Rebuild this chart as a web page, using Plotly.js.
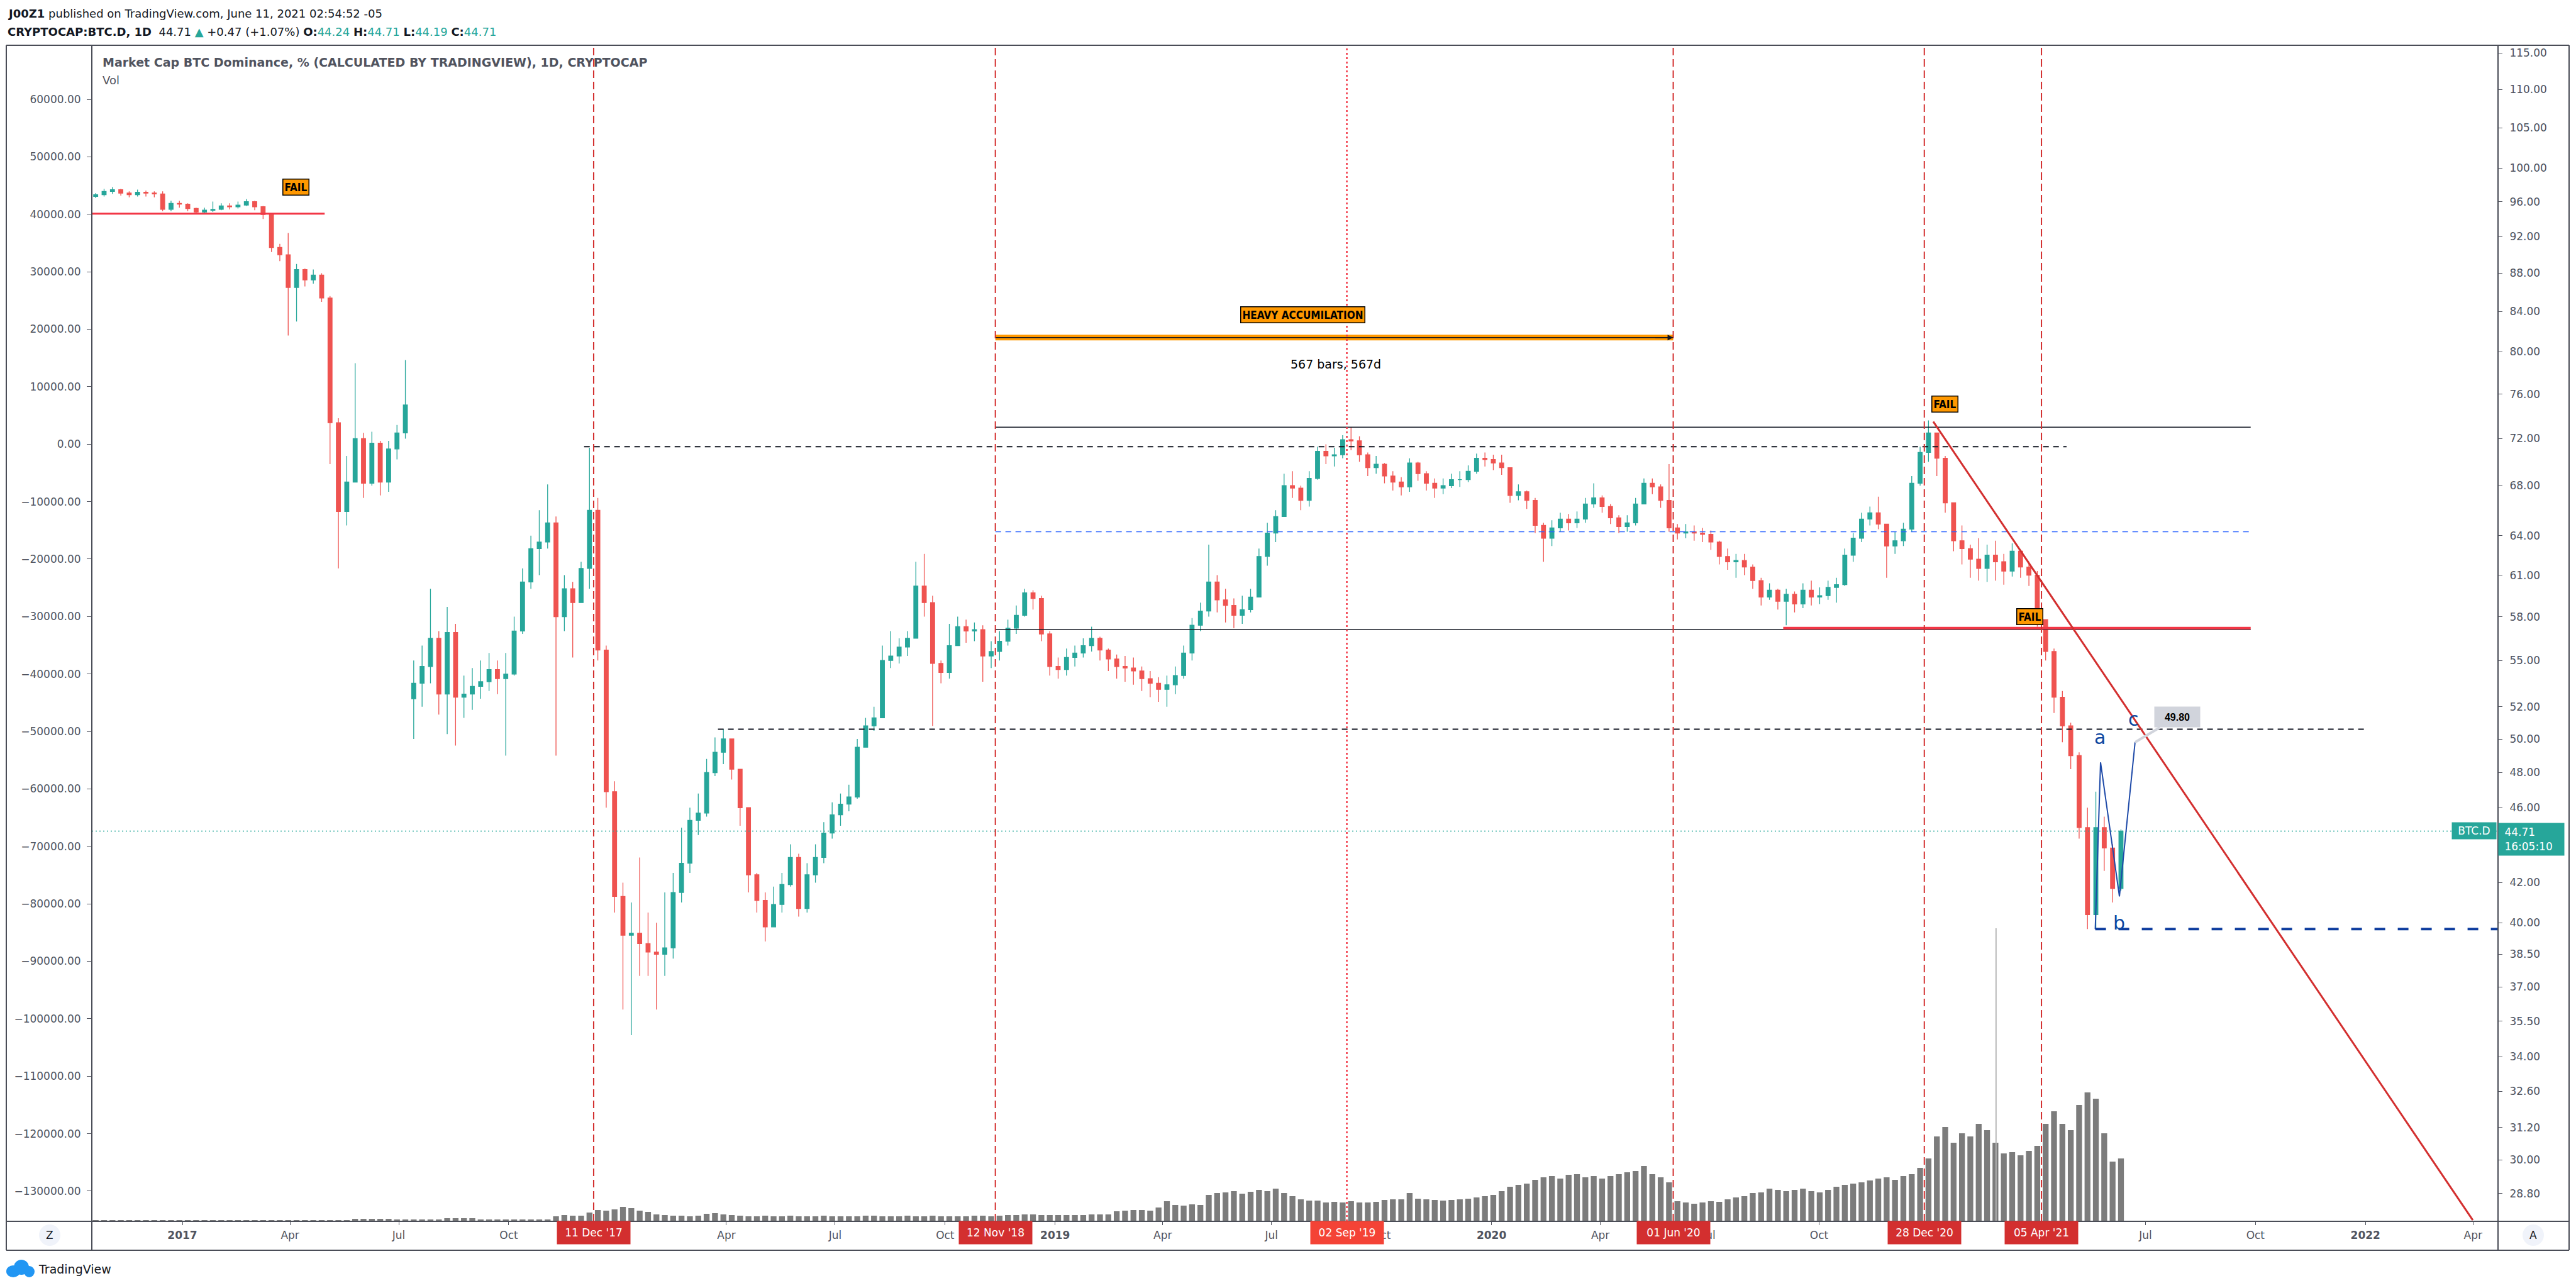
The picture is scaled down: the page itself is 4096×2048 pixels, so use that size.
<!DOCTYPE html>
<html><head><meta charset="utf-8">
<script src="https://cdn.plot.ly/plotly-3.0.1.min.js"></script>
<style>html,body{margin:0;padding:0;background:#fff}#chart{width:4096px;height:2048px}</style>
</head><body><div id="chart"></div>
<script>
// ================= DATA (weekly candles) =================
const firstWeek = '2016-10-17';
// segment 1 : Oct 2016 .. early Jul 2017
const seg1Open = 96.6;
const seg1Close = [96.8,97.2,97.4,97.0,96.8,97.1,97.0,96.9,95.1,95.8,
  95.7,95.2,94.8,95.0,95.1,95.5,95.4,95.6,96.0,95.4,
  94.5,90.8,90.0,86.5,88.4,87.3,87.8,85.4,73.4,65.9,
  68.3,72.0,68.2,71.6,68.3,71.1,72.5,75.0];
const seg1High = [97.0,97.5,97.7,97.5,97.2,97.4,97.3,97.2,97.2,96.1,
  96.1,95.8,95.3,95.3,96.0,95.8,95.8,96.0,96.3,96.1,
  95.5,94.5,91.2,92.4,89.0,88.5,88.4,88.0,85.6,73.8,
  70.5,78.9,72.5,72.6,71.8,71.8,73.2,79.2];
const seg1Low = [96.4,96.6,96.9,96.7,96.5,96.6,96.6,96.5,94.9,94.9,
  95.3,94.9,94.6,94.6,94.8,95.0,95.1,95.2,95.5,95.0,
  94.0,90.3,89.3,81.6,83.0,86.6,86.9,85.0,69.8,61.5,
  64.8,68.5,67.0,68.0,67.2,67.5,70.2,72.0];
// segment 2 : Jul 2017 .. 11 Jun 2021
const seg2Open = 52.5;
const seg2Close = [53.5,54.6,56.5,52.8,56.9,52.6,52.8,53.3,53.6,54.4,
  53.8,54.1,57.0,60.5,63.0,63.5,65.0,58.0,60.0,59.0,
  61.5,66.0,55.7,46.9,41.3,39.4,39.5,39.0,38.6,38.5,
  38.8,41.5,43.0,45.3,45.7,48.0,49.2,50.0,48.2,46.0,
  42.4,41.1,39.8,40.9,41.9,43.3,40.7,42.4,43.3,44.6,
  45.6,46.2,46.6,49.5,50.8,51.3,55.0,55.3,55.9,56.5,
  60.2,59.0,54.8,54.2,56.0,57.3,57.0,57.1,55.3,55.6,
  56.3,57.2,58.1,59.7,59.3,56.8,54.6,54.4,55.2,55.5,
  56.0,56.5,55.7,55.1,54.6,54.5,54.3,53.8,53.5,53.1,
  53.4,54.0,55.5,57.4,58.4,60.5,59.2,58.8,58.1,58.5,
  59.4,62.4,64.2,65.5,68.0,67.8,66.8,68.6,70.9,70.5,
  70.6,71.9,71.8,70.6,69.5,69.8,68.8,68.3,67.9,69.9,
  69.0,68.2,67.8,68.0,68.5,68.5,69.2,70.3,70.2,69.9,
  69.5,67.2,67.5,66.8,64.8,63.8,64.6,65.3,65.0,65.3,
  66.5,67.0,66.3,65.4,64.7,65.0,66.5,68.2,67.9,66.8,
  64.6,64.2,64.3,64.2,64.1,63.5,62.4,62.0,62.1,61.6,
  60.6,59.4,59.9,59.1,59.6,58.9,59.9,59.4,59.5,60.1,
  60.3,62.5,63.8,65.3,65.8,64.9,63.2,63.6,64.5,68.2,
  70.8,72.5,70.3,66.6,63.6,63.0,62.2,61.5,62.5,62.0,
  61.3,62.8,61.6,61.0,57.8,55.6,52.6,50.8,49.0,44.9,
  40.4,44.9,43.8,41.7,44.71];
const seg2High = [55.0,56.0,60.0,57.0,58.7,57.5,54.0,54.5,55.0,55.5,
  55.0,55.5,58.0,61.5,64.0,66.0,68.1,65.5,61.0,60.5,
  62.0,71.2,67.0,56.0,47.5,42.0,41.0,43.3,40.5,40.0,
  41.5,42.5,44.9,46.0,46.8,48.8,50.1,50.6,50.0,48.0,
  46.0,42.5,41.5,41.8,42.5,44.0,43.5,43.0,44.0,45.2,
  46.3,46.8,47.3,50.0,51.3,52.0,56.0,57.0,56.5,57.0,
  62.0,62.6,59.5,55.0,57.5,58.0,57.8,57.6,57.4,56.3,
  57.0,57.8,58.8,60.0,59.9,59.5,57.0,55.2,55.8,56.0,
  56.5,57.3,56.6,55.8,55.4,55.3,55.2,54.6,54.3,53.9,
  54.0,54.6,56.0,57.9,59.0,63.3,61.0,60.0,59.3,59.5,
  60.0,63.0,65.0,66.0,69.0,69.2,68.0,69.2,71.3,71.5,
  71.2,72.3,73.0,72.2,70.8,70.5,69.9,69.2,68.7,70.3,
  70.0,69.2,68.6,68.6,69.0,69.2,69.7,70.7,70.8,70.6,
  70.6,69.4,68.1,67.6,67.0,65.0,65.2,65.8,65.7,65.9,
  67.0,68.2,67.2,66.5,65.6,65.6,67.0,68.6,68.6,68.1,
  69.8,64.9,64.9,64.8,64.6,64.4,63.6,63.0,62.6,62.6,
  61.8,60.8,60.4,60.0,60.0,59.8,60.4,60.6,60.1,60.6,
  60.8,63.0,64.2,65.8,66.3,67.1,64.5,64.3,65.0,68.8,
  71.3,73.6,72.0,70.5,66.5,64.8,63.3,63.8,63.3,63.6,
  62.6,63.4,62.8,62.0,61.3,57.8,55.8,53.0,51.0,49.2,
  46.0,46.9,45.5,44.0,44.8];
const seg2Low = [50.0,52.0,53.5,51.5,50.3,49.6,51.3,51.8,52.5,53.0,
  52.8,49.0,54.0,56.8,60.0,61.0,63.0,49.0,57.0,55.2,
  59.0,60.0,55.0,46.0,40.5,36.0,34.9,37.5,37.5,36.0,
  37.5,38.3,41.0,42.5,44.5,45.5,47.8,48.5,47.6,45.0,
  41.5,40.5,39.1,39.8,40.5,41.8,40.3,40.5,42.0,43.0,
  44.3,45.0,45.8,46.5,49.5,50.5,52.0,54.5,54.8,55.3,
  57.5,58.0,50.8,53.5,53.8,56.0,56.2,56.3,53.6,54.5,
  55.0,56.0,56.8,58.0,58.5,56.3,54.0,53.8,54.0,54.6,
  55.2,55.6,55.0,54.3,53.8,53.6,53.4,53.0,52.6,52.3,
  52.0,52.8,53.8,55.0,57.0,58.0,58.3,57.6,57.2,57.5,
  58.3,59.5,61.7,63.5,65.5,67.0,66.0,66.3,68.5,69.8,
  69.6,70.3,71.0,70.0,68.8,69.0,68.2,67.6,67.2,67.5,
  68.4,67.6,67.0,67.3,67.8,67.9,68.3,69.0,69.6,69.3,
  68.9,66.6,66.8,66.1,64.2,62.0,63.2,64.3,64.4,64.6,
  65.0,66.2,65.8,64.9,64.2,64.3,64.8,66.5,67.3,66.2,
  64.3,63.7,63.8,63.6,63.5,62.9,61.8,61.4,60.8,61.0,
  60.0,58.8,59.2,58.5,57.4,58.3,58.6,58.8,58.9,59.2,
  59.0,60.2,62.0,63.5,64.8,64.5,60.8,62.6,63.2,64.3,
  68.0,70.0,68.8,65.8,62.8,61.8,60.8,60.6,60.5,60.6,
  60.3,60.9,60.8,60.2,57.3,55.0,51.6,49.8,48.2,44.3,
  39.7,39.7,42.6,41.0,41.6];
// volume (weekly, arbitrary units = bar height)
const volume = [2,2,2,2,2,2,2,2,2,2,
  2,2,2,2,2,2,2,2,2,2,
  2,2,2,2,2,2,2,2,2,2,
  2,4,4,4,4,4,3,3,3,3,
  3,3,5,5,5,5,3,3,3,3,
  3,3,3,3,3,8,10,9,9,14,
  18,17,19,23,21,17,15,11,10,9,
  9,8,9,12,13,11,10,9,8,8,
  9,8,8,9,8,8,8,9,8,8,
  8,8,9,9,8,8,8,9,8,8,
  9,8,8,8,8,9,9,8,9,10,
  10,11,11,10,10,10,10,10,10,11,
  11,11,16,17,18,18,17,22,32,26,
  25,27,26,42,45,46,48,44,47,50,
  48,52,45,40,35,33,33,30,31,30,
  32,30,30,31,34,35,35,45,36,35,
  34,33,34,35,36,38,40,42,48,55,
  58,60,66,70,72,68,74,75,70,72,
  68,72,75,78,80,88,75,70,62,32,
  30,28,30,32,31,35,38,40,45,46,
  52,50,48,50,52,48,46,50,55,58,
  60,62,65,68,70,66,72,75,85,100,
  135,150,125,140,135,155,145,125,108,110,
  105,112,120,155,175,155,145,185,205,195,
  140,95,100];
const volSpikeDate = ['2021-02-26'];
const volSpikeValue = [466];

// events (vertical markers)
const eventDates  = ['2017-12-11','2018-11-12','2019-09-02','2020-06-01','2020-12-28','2021-04-05'];
const eventLabels = ["11 Dec '17","12 Nov '18","02 Sep '19","01 Jun '20","28 Dec '20","05 Apr '21"];
const eventDotted = [false,false,true,false,false,false];

// drawings (levels)
const failLevelX = ['2016-10-17 06:00','2017-04-30'];   const failLevelY = [94.6,94.6];
const topDashX   = ['2017-12-03','2021-04-26'];          const topDashY   = [71.3,71.3];
const topSolidX  = ['2018-11-12','2021-09-27'];          const topSolidY  = [73.0,73.0];
const midBlueX   = ['2018-11-12','2021-09-27'];          const midBlueY   = [64.3,64.3];
const lowSolidX  = ['2018-11-12','2021-09-27'];          const lowSolidY  = [57.1,57.1];
const supportX   = ['2020-09-01','2021-09-27'];          const supportY   = [57.2,57.2];
const lowDashX   = ['2018-03-25','2022-01-03'];          const lowDashY   = [50.6,50.6];
const accumX     = ['2018-11-12','2020-06-01'];          const accumY     = [81.4,81.4];
const trendX     = ['2021-01-04 12:00','2022-03-31 19:00']; const trendY = [73.5,27.88];
const abcX       = ['2021-05-20','2021-05-24 10:00','2021-06-09 05:00','2021-06-22 07:00'];
const abcY       = [39.7,48.6,41.3,49.8];
const bLineX     = ['2021-05-20','2022-04-21 21:00'];    const bLineY     = [39.7,39.7];
const lastPrice  = 44.71;

// axes
const xRange = ['2016-10-17 06:00','2022-04-21 21:00'];
const rightTicks = [28.8,30,31.2,32.6,34,35.5,37,38.5,40,42,46,48,50,52,55,58,61,64,68,72,76,80,84,88,92,96,100,105,110,115];
const leftTicks = [60000,50000,40000,30000,20000,10000,0,-10000,-20000,-30000,-40000,-50000,-60000,-70000,-80000,-90000,-100000,-110000,-120000,-130000];
// tick labels that sit under the red event boxes are blank (hidden in the reference)
const xTickDates = ['2017-01-01','2017-04-01','2017-07-01','2017-10-01','2018-01-01','2018-04-01','2018-07-01','2018-10-01',
  '2019-01-01','2019-04-01','2019-07-01','2019-10-01','2020-01-01','2020-04-01','2020-07-01','2020-10-01',
  '2021-01-01','2021-04-01','2021-07-01','2021-10-01','2022-01-01','2022-04-01'];
const xTickText = ['<b>2017</b>','Apr','Jul','Oct','','Apr','Jul','Oct','<b>2019</b>','Apr','Jul','Oct',
  '<b>2020</b>','Apr','Jul','Oct','','','Jul','Oct','<b>2022</b>','Apr'];

// ================= BUILD =================
function addDays(iso, d){
  const t = Date.parse(iso + 'T00:00:00Z') + d*86400000;
  return new Date(t).toISOString().slice(0,16).replace('T',' ');
}
const close = seg1Close.concat(seg2Close);
const candleX = close.map((c,i)=>addDays(firstWeek, 7*i + 3.5));
const open = close.map((c,i)=> i===0 ? seg1Open : (i===seg1Close.length ? seg2Open : close[i-1]));
const high = seg1High.concat(seg2High).map((h,i)=>Math.max(h, open[i], close[i]));
const low  = seg1Low.concat(seg2Low).map((l,i)=>Math.min(l, open[i], close[i]));

const FONT = 'DejaVu Sans, Verdana, sans-serif';
const NARROW = 'Liberation Sans Narrow, DejaVu Sans Condensed, Roboto Condensed, Arial Narrow, sans-serif';
const TXT = '#131722', AX = '#50535e', TEAL = '#26a69a';
const PX = px => (px-146)/3826, PY = py => (1942-py)/1870;
const L10 = v => Math.log10(v);

function line(x, y, color, width, dash, axis){
  return {type:'scatter', mode:'lines', x:x, y:y, yaxis: axis||'y', hoverinfo:'skip',
    line:{color:color, width:width, dash:dash||'solid'}, showlegend:false};
}

const traces = [
  {type:'bar', x:candleX, y:volume, yaxis:'y3', marker:{color:'#7c7c7c', line:{width:0}}, hoverinfo:'skip', showlegend:false},
  {type:'bar', x:volSpikeDate, y:volSpikeValue, yaxis:'y3', width:86400000, marker:{color:'#b5b5b5', line:{width:0}}, hoverinfo:'skip', showlegend:false},
  {type:'scatter', mode:'markers', x:[candleX[0]], y:[leftTicks[0]], yaxis:'y2', marker:{opacity:0}, hoverinfo:'skip', showlegend:false},
  {type:'candlestick', x:candleX, open:open, high:high, low:low, close:close, yaxis:'y',
    increasing:{line:{color:TEAL, width:1.3}, fillcolor:TEAL},
    decreasing:{line:{color:'#ef5350', width:1.3}, fillcolor:'#ef5350'},
    whiskerwidth:0, hoverinfo:'skip', showlegend:false},
  line(xRange, [lastPrice,lastPrice], TEAL, 1.5, '2px,4px'),
  line(failLevelX, failLevelY, '#f23645', 3),
  line(topDashX, topDashY, TXT, 2, '9px,7px'),
  line(topSolidX, topSolidY, TXT, 1.5),
  line(midBlueX, midBlueY, '#2962ff', 1.5, '9px,7px'),
  line(lowSolidX, lowSolidY, TXT, 1.5),
  line(supportX, supportY, '#f23645', 4),
  line(lowDashX, lowDashY, TXT, 2, '9px,7px'),
  line(accumX, accumY, '#ff9800', 9),
  line(accumX, accumY, TXT, 1.5),
  line(trendX, trendY, '#d32f2f', 3),
  line(abcX, abcY, '#1e4aa8', 2),
  line(bLineX, bLineY, '#0d3c9e', 4, '17px,20px')
];

const shapes = [];
eventDates.forEach((d,i)=>{
  shapes.push({type:'line', xref:'x', yref:'paper', x0:d, x1:d, y0:0, y1:1,
    line:{color: eventDotted[i] ? '#f23645' : '#d32f2f', width: eventDotted[i] ? 2.5 : 2, dash: eventDotted[i] ? '3px,4px' : '12px,6px'}});
});
// frame
const FC = '#4a4d57';
const xL = PX(10), xR = PX(4085), yB = PY(1988);
[[xL,1,xR,1],[xL,0,xR,0],[xL,yB,xR,yB],[xL,yB,xL,1],[0,yB,0,1],[1,yB,1,1],[xR,yB,xR,1]].forEach(s=>{
  shapes.push({type:'line', xref:'paper', yref:'paper', x0:s[0], y0:s[1], x1:s[2], y1:s[3], line:{color:FC, width:2}});
});
// Z / A buttons
shapes.push({type:'circle', xref:'paper', yref:'paper', x0:PX(62), x1:PX(96), y0:PY(1981), y1:PY(1947), fillcolor:'#f0f3fa', line:{width:0}});
shapes.push({type:'circle', xref:'paper', yref:'paper', x0:PX(4011), x1:PX(4045), y0:PY(1981), y1:PY(1947), fillcolor:'#f0f3fa', line:{width:0}});
// TradingView logo (simple cloud)
[[10,2012,32,2031],[22,2003,46,2027],[38,2013,55,2031]].forEach(c=>{
  shapes.push({type:'circle', xref:'paper', yref:'paper', x0:PX(c[0]), x1:PX(c[2]), y0:PY(c[3]), y1:PY(c[1]), fillcolor:'#2196f3', line:{width:0}});
});

const ann = [];
function txt(x, y, text, size, opts){
  return Object.assign({xref:'paper', yref:'paper', x:x, y:y, text:text, showarrow:false,
    xanchor:'left', yanchor:'middle', font:{family:FONT, size:size, color:TXT}}, opts||{});
}
ann.push(txt(PX(10), PY(22), '<b>J00Z1</b> published on TradingView.com, June 11, 2021 02:54:52 -05', 18));
ann.push(txt(PX(10), PY(50), '<b>CRYPTOCAP:BTC.D, 1D</b>  44.71 <span style="color:#26a69a">▲</span> +0.47 (+1.07%) <b>O:</b><span style="color:#26a69a">44.24</span> <b>H:</b><span style="color:#26a69a">44.71</span> <b>L:</b><span style="color:#26a69a">44.19</span> <b>C:</b><span style="color:#26a69a">44.71</span>', 18));
ann.push(txt(PX(161), PY(99), '<b>Market Cap BTC Dominance, % (CALCULATED BY TRADINGVIEW), 1D, CRYPTOCAP</b>', 19, {font:{family:FONT,size:19,color:AX}}));
ann.push(txt(PX(161), PY(128), 'Vol', 18, {font:{family:FONT,size:18,color:AX}}));
ann.push(txt(PX(79), PY(1964), 'Z', 17, {xanchor:'center'}));
ann.push(txt(PX(4028), PY(1964), 'A', 17, {xanchor:'center'}));
ann.push(txt(PX(59), PY(2018), 'TradingView', 19));

// event date boxes on the time axis
eventDates.forEach((d,i)=>{
  ann.push({xref:'x', yref:'paper', x:d, y:PY(1960), yanchor:'middle', xanchor:'center', showarrow:false,
    text:eventLabels[i], font:{family:FONT, size:17, color:'#ffffff'},
    bgcolor: eventDotted[i] ? '#f44336' : '#d32f2f', borderpad:8, width:100});
});
// FAIL labels
const failX = ['2017-04-06','2021-01-14','2021-03-26'];
const failY = [97.7, 75.1, 58.0];
failX.forEach((x,i)=>{
  ann.push({xref:'x', yref:'y', x:x, y:L10(failY[i]), showarrow:false, text:'<b>FAIL</b>',
    font:{family:NARROW, size:17, color:'#000'}, bgcolor:'#ff9800', bordercolor:'#000', borderwidth:1.5, borderpad:2});
});
ann.push({xref:'x', yref:'y', x:'2019-07-27', y:L10(83.7), showarrow:false, text:'<b>HEAVY ACCUMILATION</b>',
  font:{family:NARROW, size:17, color:'#000'}, bgcolor:'#ff9800', bordercolor:'#000', borderwidth:1.5, borderpad:2});
ann.push({xref:'x', yref:'y', x:accumX[1], y:L10(accumY[1]), ax:-30, ay:0, text:'', showarrow:true,
  arrowhead:2, arrowsize:1.2, arrowwidth:1.5, arrowcolor:TXT});
ann.push({xref:'x', yref:'y', x:'2019-08-24', y:L10(78.8), showarrow:false, text:'567 bars, 567d',
  font:{family:FONT, size:19, color:'#000'}});
// wave labels
[['a','2021-05-24',50.1],['b','2021-06-09',40.0],['c','2021-06-21',51.2]].forEach(a=>{
  ann.push({xref:'x', yref:'y', x:a[1], y:L10(a[2]), showarrow:false, text:a[0],
    font:{family:FONT, size:30, color:'#0d47a1'}});
});
ann.push({xref:'x', yref:'y', x:abcX[3], y:L10(abcY[3]), ax:67, ay:-40, showarrow:true, arrowhead:0,
  arrowwidth:4, arrowcolor:'#d1d4dc', standoff:0, text:'<b>49.80</b>',
  font:{family:'Liberation Sans, Arial, sans-serif', size:16, color:'#000'}, bgcolor:'#d1d4dc', borderpad:5, width:62, height:22});
// price labels
ann.push({xref:'paper', yref:'y', x:1, y:L10(lastPrice), xanchor:'right', yanchor:'middle', xshift:-2, showarrow:false,
  text:'BTC.D', font:{family:FONT, size:17, color:'#fff'}, bgcolor:TEAL, borderpad:3, width:64, height:20});
ann.push({xref:'paper', yref:'y', x:1, y:L10(lastPrice), xanchor:'left', yanchor:'top', yshift:13, showarrow:false,
  text:'&nbsp;' + lastPrice.toFixed(2) + '<br>&nbsp;16:05:10', align:'left', font:{family:FONT, size:17, color:'#fff'},
  bgcolor:TEAL, borderpad:4, width:96, height:43});

const layout = {
  width:4096, height:2048,
  margin:{l:146, r:124, t:72, b:106, pad:0, autoexpand:false},
  paper_bgcolor:'#ffffff', plot_bgcolor:'#ffffff',
  showlegend:false, barmode:'overlay', bargap:0.3, boxgap:0.3,
  xaxis:{type:'date', range:xRange, tickvals:xTickDates, ticktext:xTickText, ticks:'outside', ticklen:5,
    tickcolor:AX, tickfont:{family:FONT, size:17, color:AX}, showgrid:false, zeroline:false, showline:false,
    rangeslider:{visible:false}, ticklabelstandoff:2, fixedrange:true},
  yaxis:{type:'log', side:'right', range:[L10(27.84), L10(116.06)], tickvals:rightTicks,
    ticktext:rightTicks.map(v=>v.toFixed(2)), ticks:'outside', ticklen:6, tickcolor:AX,
    tickfont:{family:FONT, size:17, color:AX}, showgrid:false, zeroline:false, showline:false, ticklabelstandoff:8},
  yaxis2:{overlaying:'y', side:'left', range:[-135260, 69420], tickvals:leftTicks,
    ticktext:leftTicks.map(v=>(v<0?'\u2212':'') + Math.abs(v).toFixed(2)), ticks:'outside', ticklen:7, tickcolor:AX,
    tickfont:{family:FONT, size:17, color:AX}, showgrid:false, zeroline:false, showline:false, ticklabelstandoff:6},
  yaxis3:{overlaying:'y', range:[0,1870], visible:false, showgrid:false, zeroline:false},
  shapes:shapes, annotations:ann
};
Plotly.newPlot('chart', traces, layout, {staticPlot:true, displayModeBar:false});
</script>
</body></html>
